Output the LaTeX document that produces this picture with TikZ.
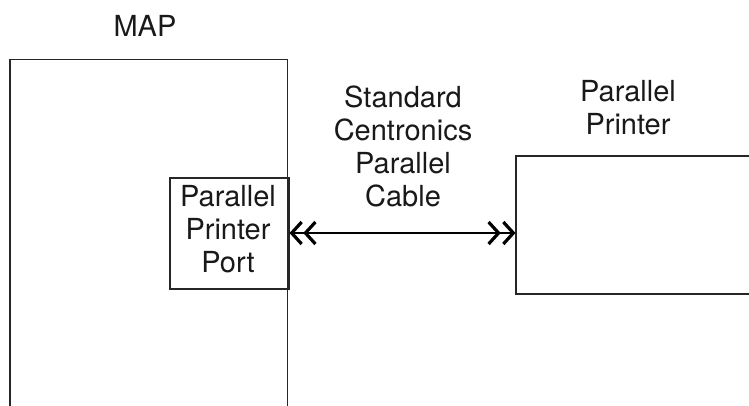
\documentclass[tikz,border=0pt]{standalone}
\usepackage{fontspec}
\setmainfont{TeX Gyre Heros}
\usetikzlibrary{arrows.meta}
\begin{document}
\begin{tikzpicture}[x=1pt,y=-1pt,
  box/.style={line width=1.5pt,draw=black!85},
  lbl/.style={font=\fontsize{29}{33}\selectfont,align=center,inner sep=0pt,text=black!90},
  chev/.style={line width=1.4pt,{Straight Barb[length=10pt,width=22pt,line width=3.2pt,sep=1pt]Straight Barb[length=10pt,width=22pt,line width=3.2pt]}-{Straight Barb[length=10pt,width=22pt,line width=3.2pt,sep=1pt]Straight Barb[length=10pt,width=22pt,line width=3.2pt]}}]
\useasboundingbox (0,0) rectangle (749,405);
% MAP box (open at bottom)
\draw[box] (10,406) -- (10,59.5) -- (287.5,59.5) -- (287.5,406);
\node[lbl] (map) at (145,26) {MAP};
% Port box
\node[box,minimum width=119pt,minimum height=111pt,inner sep=0pt,anchor=north west] (port) at (169,177) {};
\node[lbl] (porttxt) at (228,229) {Parallel\\Printer\\Port};
% Printer box (open at right)
\draw[box] (750,156) -- (516,156) -- (516,294) -- (750,294);
\coordinate (ptrin) at (515.5,233);
\coordinate (portout) at (288.5,233);
\node[lbl] (ptr) at (628,108) {Parallel\\Printer};
\node[lbl] (cable) at (403,146) {Standard\\Centronics\\Parallel\\Cable};
\draw[chev] (portout) -- (ptrin);
\end{tikzpicture}
\end{document}
